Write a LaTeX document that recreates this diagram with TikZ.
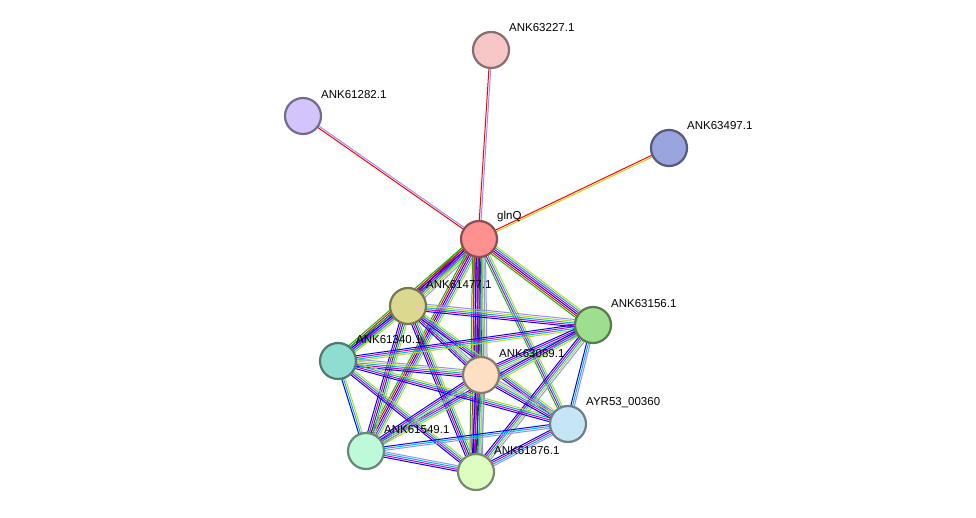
\documentclass[tikz,border=0pt]{standalone}
\usepackage{fontspec}
\setmainfont{Liberation Sans}
\pgfdeclarelayer{bg}\pgfsetlayers{bg,main}
\definecolor{cA}{HTML}{00C000}
\definecolor{cB}{HTML}{FF0000}
\definecolor{cC}{HTML}{0000FF}
\definecolor{cD}{HTML}{C000C0}
\definecolor{cE}{HTML}{303030}
\definecolor{cF}{HTML}{00B0E0}
\definecolor{cG}{HTML}{B8D820}
\definecolor{cH}{HTML}{9090FF}
\tikzset{
 prot/.style={circle,minimum size=36pt,inner sep=0pt,line width=2.2pt,fill=#1!100,draw=#1!55!black},
 lab/.style={anchor=west,inner sep=0pt,font=\fontsize{11.5}{13}\selectfont},
 eline/.style={line width=1pt}
}
\newcount\ecnt
\newcommand\stredge[3]{%
 \pgfmathanglebetweenpoints{\pgfpointanchor{#1}{center}}{\pgfpointanchor{#2}{center}}%
 \edef\eang{\pgfmathresult}%
 \global\ecnt=0 \foreach \c in {#3}{\global\advance\ecnt by 1}%
 \edef\en{\the\ecnt}%
 \begin{pgfonlayer}{bg}
 \foreach \c [count=\i] in {#3}{%
  \pgfmathsetmacro\off{1.8*(\i-1-(\en-1)/2)}%
  \draw[eline,\c,transform canvas={shift={(\eang+90:\off pt)}}] (#1.center) -- (#2.center);}
 \end{pgfonlayer}}
\begin{document}
\begin{tikzpicture}[x=1pt,y=-1pt]
\useasboundingbox (0,0) rectangle (976,518);
\definecolor{n1}{HTML}{FF9090}\definecolor{n2}{HTML}{F7C6C6}\definecolor{n3}{HTML}{D4C4FC}
\definecolor{n4}{HTML}{9AA5E0}\definecolor{n5}{HTML}{DBD98F}\definecolor{n6}{HTML}{9EDE8F}
\definecolor{n7}{HTML}{8FDDD0}\definecolor{n8}{HTML}{FDE0C4}\definecolor{n9}{HTML}{C6E6F8}
\definecolor{n10}{HTML}{BEF9DA}\definecolor{n11}{HTML}{DEFDC0}
\node[prot=n1] (g) at (479,239) {}; \node[lab] at (497,217) {glnQ};
\node[prot=n2] (a) at (491,50) {}; \node[lab] at (509,28) {ANK63227.1};
\node[prot=n3] (b) at (303,116) {}; \node[lab] at (321,95) {ANK61282.1};
\node[prot=n4] (c) at (669,148) {}; \node[lab] at (687,126) {ANK63497.1};
\node[prot=n5] (d) at (408,306) {}; \node[lab] at (426,285) {ANK61477.1};
\node[prot=n6] (e) at (593,325) {}; \node[lab] at (611,304) {ANK63156.1};
\node[prot=n7] (f) at (338,361) {}; \node[lab] at (356,340) {ANK61340.1};
\node[prot=n8] (h) at (481,375) {}; \node[lab] at (499,354) {ANK63089.1};
\node[prot=n9] (i) at (568,424) {}; \node[lab] at (586,403) {AYR53\_00360};
\node[prot=n10] (j) at (366,451) {}; \node[lab] at (384,430) {ANK61549.1};
\node[prot=n11] (k) at (476,472) {}; \node[lab] at (494,451) {ANK61876.1};
\stredge{g}{a}{cH,cB}
\stredge{g}{b}{cH,cB}
\stredge{g}{c}{cG,cB}
\stredge{g}{d}{cA,cB,cC,cD,cF,cG,cH}
\stredge{g}{e}{cA,cB,cC,cD,cF,cG}
\stredge{g}{f}{cA,cB,cC,cD,cF,cG}
\stredge{g}{h}{cA,cB,cC,cD,cE,cF,cG,cH}
\stredge{g}{i}{cA,cD,cF,cG}
\stredge{g}{j}{cA,cB,cC,cD,cF,cG}
\stredge{g}{k}{cA,cB,cC,cD,cE,cF,cG,cH}
\stredge{d}{e}{cC,cD,cF,cG,cH}
\stredge{d}{f}{cA,cC,cD,cF,cG}
\stredge{d}{h}{cC,cD,cF,cG,cH}
\stredge{d}{i}{cC,cD,cF,cG}
\stredge{d}{j}{cC,cD,cE,cF,cG}
\stredge{d}{k}{cC,cD,cE,cF,cG}
\stredge{e}{f}{cC,cD,cF,cG}
\stredge{e}{h}{cC,cD,cF,cG,cH}
\stredge{e}{i}{cC,cF,cH}
\stredge{e}{j}{cC,cD,cF,cG}
\stredge{e}{k}{cC,cD,cF,cG,cH}
\stredge{f}{h}{cC,cD,cF,cG,cH}
\stredge{f}{i}{cC,cD,cF,cG}
\stredge{f}{j}{cC,cF,cG}
\stredge{f}{k}{cC,cD,cF,cG}
\stredge{h}{i}{cC,cD,cF,cG,cH}
\stredge{h}{j}{cC,cD,cF,cG,cH}
\stredge{h}{k}{cC,cD,cE,cF,cG,cH}
\stredge{i}{j}{cC,cF,cH}
\stredge{i}{k}{cC,cD,cF,cH}
\stredge{j}{k}{cC,cD,cF,cH}
\end{tikzpicture}
\end{document}
